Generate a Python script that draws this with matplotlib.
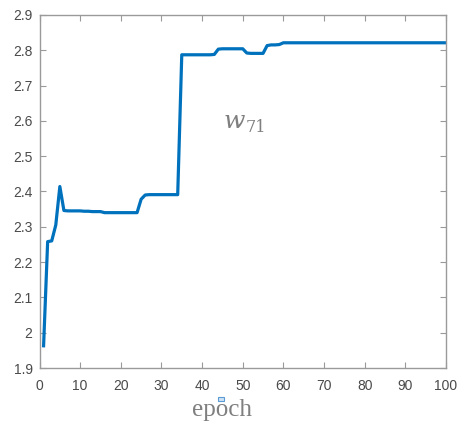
import matplotlib
matplotlib.use("Agg")
import matplotlib.pyplot as plt
from matplotlib.patches import Rectangle

# weight w71 over training epochs
epochs = list(range(1, 101))
w71 = ([1.963, 2.258, 2.260, 2.305, 2.414, 2.346, 2.345, 2.345, 2.345, 2.345,
        2.344, 2.344, 2.343, 2.343, 2.343, 2.340, 2.340, 2.340, 2.340, 2.340,
        2.340, 2.340, 2.340, 2.340, 2.378, 2.390, 2.391, 2.391, 2.391, 2.391,
        2.391, 2.391, 2.391, 2.391, 2.787, 2.787, 2.787, 2.787, 2.787, 2.787,
        2.787, 2.787, 2.788, 2.803, 2.804, 2.804, 2.804, 2.804, 2.804, 2.804,
        2.792, 2.791, 2.791, 2.791, 2.791, 2.813, 2.815, 2.815, 2.816, 2.821]
       + [2.821] * 40)

xticks = list(range(0, 101, 10))
yticks = [1.9, 2.0, 2.1, 2.2, 2.3, 2.4, 2.5, 2.6, 2.7, 2.8, 2.9]
ytick_labels = ["1.9", "2", "2.1", "2.2", "2.3", "2.4", "2.5", "2.6", "2.7", "2.8", "2.9"]

fig = plt.figure(figsize=(4.65, 4.25), dpi=100)
ax = fig.add_axes([0.085, 0.134, 0.874, 0.831])

ax.plot(epochs, w71, color="#0072BD", linewidth=2.3, solid_joinstyle="round")

ax.set_xlim(0, 100)
ax.set_ylim(1.9, 2.9)
ax.set_xticks(xticks)
ax.set_yticks(yticks)
ax.set_yticklabels(ytick_labels)

for side in ax.spines.values():
    side.set_color("#9a9a9a")
    side.set_linewidth(1.0)
ax.tick_params(direction="in", length=4, width=0.8, color="#9a9a9a",
               top=True, right=True, labelsize=10, labelcolor="#4a4a4a")
ax.tick_params(axis="x", pad=8)
ax.tick_params(axis="y", pad=5)
for lab in ax.get_xticklabels() + ax.get_yticklabels():
    lab.set_family("Liberation Sans")

# series name: italic w with a subscript index
label_color = "#7f7f7f"
ax.text(45.1, 2.581, r"$w$", fontsize=18, color=label_color, ha="left",
        va="baseline", math_fontfamily="dejavuserif")
ax.text(50.8, 2.569, "71", fontsize=11.5, color=label_color, ha="left",
        va="baseline", family="DejaVu Serif")

fig.text(0.477, 0.021, "epoch", fontsize=18, color=label_color,
         family="Liberation Serif", ha="center", va="baseline")
fig.patches.append(Rectangle((0.4695, 0.0565), 0.0123, 0.0094, transform=fig.transFigure,
                             facecolor="#cfe3f5", edgecolor="#5b9bd5", linewidth=0.8))

fig.savefig("out.png", dpi=100)
